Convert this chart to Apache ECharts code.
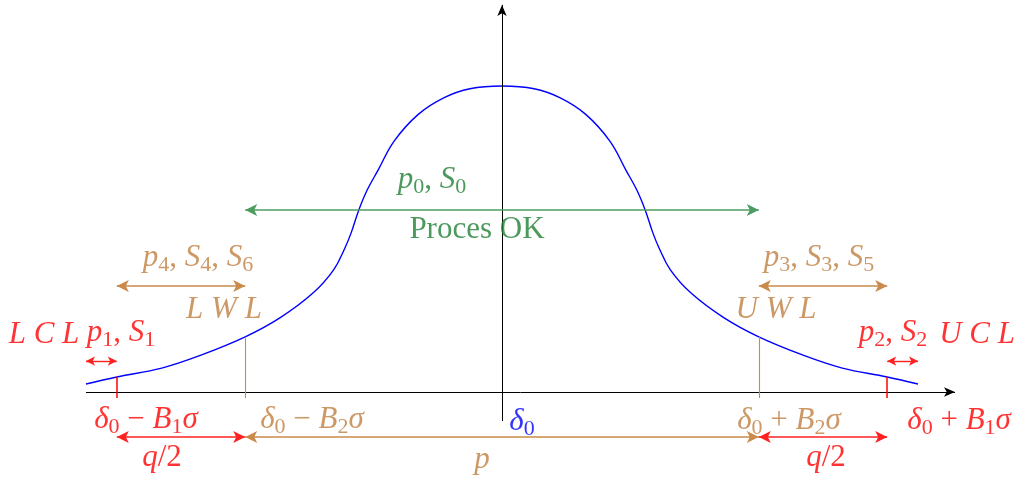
<!DOCTYPE html>
<html>
<head>
<meta charset="utf-8">
<title>Regulační diagram – meze LCL, LWL, UWL, UCL</title>
<script src="https://cdn.jsdelivr.net/npm/echarts@6/dist/echarts.min.js"></script>
<style>
  html, body { margin: 0; padding: 0; background: #ffffff; }
  #chart { width: 1021px; height: 477px; }
</style>
</head>
<body>
<div id="chart"></div>
<script>
// Density curve of the monitored quantity (x in units of sigma around delta0)
const curveX = [-3.24, -3.0, -2.65, -2.34, -2.0, -1.73, -1.47, -1.31, -1.225, -1.175,
  -1.115, -1.05, -0.965, -0.84, -0.65, -0.45, -0.25, 0,
  0.25, 0.45, 0.65, 0.84, 0.965, 1.05, 1.115, 1.175, 1.225, 1.31, 1.47, 1.73,
  2.0, 2.34, 2.65, 3.0, 3.24];
const curveY = [0.026, 0.049, 0.078, 0.121, 0.180, 0.242, 0.324, 0.400, 0.469, 0.520,
  0.595, 0.660, 0.725, 0.820, 0.908, 0.962, 0.991, 1.0,
  0.991, 0.962, 0.908, 0.820, 0.725, 0.660, 0.595, 0.520, 0.469, 0.400, 0.324, 0.242,
  0.180, 0.121, 0.078, 0.049, 0.026];

// Control and warning limits
const delta0 = 0;
const sigma = 1;
const B1 = 3;   // control limits  delta0 ± B1·sigma
const B2 = 2;   // warning limits  delta0 ± B2·sigma
const curveEnd = 3.24;

// Axis extents
const xAxisFrom = -3.24, xAxisTo = 3.528;
const yAxisFrom = -0.095, yAxisTo = 1.265;

const LCL = delta0 - B1 * sigma, LWL = delta0 - B2 * sigma;
const UWL = delta0 + B2 * sigma, UCL = delta0 + B1 * sigma;

const RED = '#ff0000', RED_LINE = '#ff2020';
const TAN = '#bf8040', TAN_LINE = '#c98a4a';
const GREEN = '#1f7f34', GREEN_LINE = '#4c9c60';
const BLUE = '#0000ff';

function curveAt(x) {
  const i = curveX.indexOf(x);
  return curveY[i];
}

// Levels (in y units) at which the interval arrows are drawn
const okLevel = 0.595, warnLevel = 0.346, outLevel = 0.101, baseLevel = -0.147, tickFoot = -0.02;

function arrow(x1, y1, x2, y2, color, size, startSym, endSym, width) {
  return [
    { coord: [x1, y1], symbol: startSym, symbolSize: size, lineStyle: { color: color, width: width || 1.4, type: 'solid' } },
    { coord: [x2, y2], symbol: endSym, symbolSize: size }
  ];
}
function segment(x1, y1, x2, y2, color, width) {
  return [
    { coord: [x1, y1], symbol: 'none', lineStyle: { color: color, width: width, type: 'solid', opacity: 1 } },
    { coord: [x2, y2], symbol: 'none' }
  ];
}

const big = [9, 12], small = [7, 9];
const guideLines = [
  // coordinate axes
  arrow(xAxisFrom, 0, xAxisTo, 0, '#000000', [7, 11], 'none', 'arrow', 1),
  arrow(0, yAxisFrom, 0, yAxisTo, '#000000', [7, 11], 'none', 'arrow', 1),
  // limit ticks
  segment(LCL, curveAt(LCL), LCL, tickFoot, RED, 1.5),
  segment(UCL, curveAt(UCL), UCL, tickFoot, RED, 1.5),
  segment(LWL, curveAt(LWL), LWL, tickFoot, TAN_LINE, 1.1),
  segment(UWL, curveAt(UWL), UWL, tickFoot, TAN_LINE, 1.1),
  // process in control
  arrow(LWL, okLevel, UWL, okLevel, GREEN_LINE, big, 'arrow', 'arrow', 1.6),
  // warning zones
  arrow(LCL, warnLevel, LWL, warnLevel, TAN_LINE, big, 'arrow', 'arrow', 1.5),
  arrow(UWL, warnLevel, UCL, warnLevel, TAN_LINE, big, 'arrow', 'arrow', 1.5),
  // out of control zones
  arrow(-curveEnd, outLevel, LCL, outLevel, RED_LINE, small, 'arrow', 'arrow', 1.4),
  arrow(UCL, outLevel, curveEnd, outLevel, RED_LINE, small, 'arrow', 'arrow', 1.4),
  // widths below the axis
  arrow(LCL, baseLevel, LWL, baseLevel, RED_LINE, big, 'arrow', 'arrow', 1.5),
  arrow(LWL, baseLevel, UWL, baseLevel, TAN_LINE, big, 'arrow', 'arrow', 1.5),
  arrow(UWL, baseLevel, UCL, baseLevel, RED_LINE, big, 'arrow', 'arrow', 1.5)
];

// Text annotations: rich-text markup, colour and anchor
const labelText = [
  '{i|L C L}',
  '{i|p}{s|1}{r|, }{i|S}{s|1}',
  '{i|p}{s|2}{r|, }{i|S}{s|2}',
  '{i|U C L}',
  '{i|p}{s|4}{r|, }{i|S}{s|4}{r|, }{i|S}{s|6}',
  '{i|L W L}',
  '{i|p}{s|3}{r|, }{i|S}{s|3}{r|, }{i|S}{s|5}',
  '{i|U W L}',
  '{i|p}{s|0}{r|, }{i|S}{s|0}',
  '{r|Proces OK}',
  '{i|δ}{s|0}{r| − }{i|B}{s|1}{i|σ}',
  '{i|δ}{s|0}{r| − }{i|B}{s|2}{i|σ}',
  '{i|δ}{s|0}',
  '{i|δ}{s|0}{r| + }{i|B}{s|2}{i|σ}',
  '{i|δ}{s|0}{r| + }{i|B}{s|1}{i|σ}',
  '{i|q}{r|/2}',
  '{i|p}',
  '{i|q}{r|/2}'
];
const labelColor = [RED, RED, RED, RED, TAN, TAN, TAN, TAN, GREEN, GREEN,
  RED, TAN, BLUE, TAN, RED, RED, TAN, RED];
const labelAnchor = [
  [-3.567, 0.186], [-2.967, 0.193], [3.045, 0.193], [3.70, 0.186],
  [-2.368, 0.438], [-2.165, 0.268], [2.469, 0.438], [2.134, 0.268],
  [-0.545, 0.693], [-0.195, 0.529],
  [-2.773, -0.0915], [-1.48, -0.0915], [0.156, -0.098], [2.235, -0.095], [3.56, -0.095],
  [-2.648, -0.216], [-0.156, -0.222], [2.523, -0.216]
];

const serif = '"Liberation Serif", "DejaVu Serif", serif';
const richStyles = {
  i: { fontFamily: serif, fontStyle: 'italic', fontSize: 31 },
  r: { fontFamily: serif, fontSize: 31 },
  s: { fontFamily: serif, fontSize: 22, padding: [14, 0, 0, 0] }
};

const chart = echarts.init(document.getElementById('chart'), null, { renderer: 'canvas' });
chart.setOption({
  animation: false,
  backgroundColor: '#ffffff',
  grid: { left: 0, right: 0, top: 0, bottom: 0 },
  xAxis: {
    type: 'value', min: -3.9097, max: 4.0421,
    axisLine: { show: false }, axisTick: { show: false }, axisLabel: { show: false }, splitLine: { show: false }
  },
  yAxis: {
    type: 'value', min: -0.2778, max: 1.281,
    axisLine: { show: false }, axisTick: { show: false }, axisLabel: { show: false }, splitLine: { show: false }
  },
  series: [
    {
      name: 'hustota',
      type: 'line',
      data: curveX.map((x, i) => [x, curveY[i]]),
      showSymbol: false,
      smooth: 0.4,
      lineStyle: { color: BLUE, width: 1.4 },
      silent: true,
      z: 3,
      markLine: {
        silent: true,
        animation: false,
        label: { show: false },
        emphasis: { disabled: true },
        data: guideLines
      }
    },
    {
      name: 'popisky',
      type: 'scatter',
      symbolSize: 0,
      silent: true,
      z: 5,
      data: labelText.map((t, i) => ({
        value: labelAnchor[i],
        label: {
          show: true,
          position: 'inside',
          color: labelColor[i],
          formatter: t,
          rich: richStyles
        }
      }))
    }
  ]
});
</script>
</body>
</html>
